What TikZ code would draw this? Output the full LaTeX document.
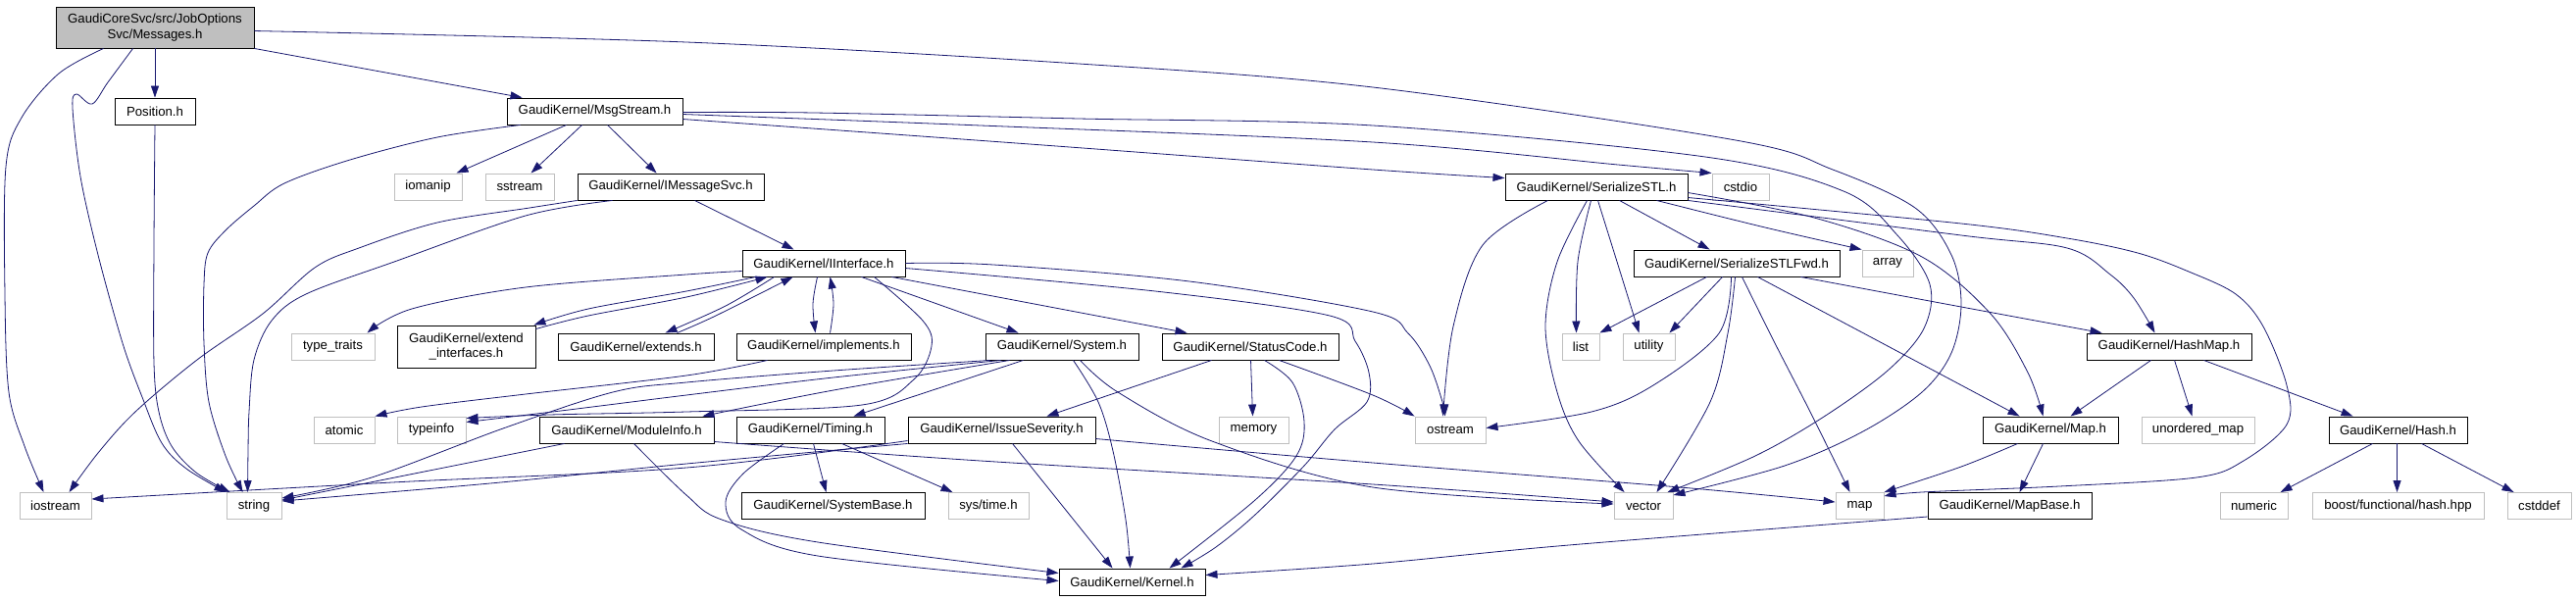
\documentclass[tikz,border=0pt]{standalone}
\usepackage{fontspec}
\setmainfont{Liberation Sans}
\usetikzlibrary{arrows.meta}
\definecolor{edgeblue}{HTML}{191970}
\definecolor{grayline}{HTML}{BFBFBF}
\begin{document}
\begin{tikzpicture}[x=1pt,y=-1pt,
  box/.style={draw=black,line width=0.95pt,inner sep=0pt,font=\fontsize{13.2pt}{15.5pt}\selectfont,align=center},
  ext/.style={box,draw=grayline},
  edge/.style={draw=edgeblue,line width=0.8pt,-{Triangle[length=12pt,width=8pt]}},
  sm/.style={smooth,tension=0.55}]
\useasboundingbox (0,0) rectangle (2627,613);
\node[box,fill=grayline,minimum width=202pt,minimum height=42pt] (msg) at (158,28) {GaudiCoreSvc/src/JobOptions\\Svc/Messages.h};
\node[box,minimum width=82pt,minimum height=27pt] (pos) at (158,113.5) {Position.h};
\node[box,minimum width=179pt,minimum height=27pt] (mstr) at (606.5,113.5) {GaudiKernel/MsgStream.h};
\node[ext,minimum width=69pt,minimum height=27pt] (iomanip) at (436.5,190.5) {iomanip};
\node[ext,minimum width=70pt,minimum height=27pt] (sstream) at (530,190.5) {sstream};
\node[box,minimum width=190pt,minimum height=27pt] (imsg) at (684,190.5) {GaudiKernel/IMessageSvc.h};
\node[box,minimum width=186pt,minimum height=27pt] (sstl) at (1628,190.5) {GaudiKernel/SerializeSTL.h};
\node[ext,minimum width=58pt,minimum height=27pt] (cstdio) at (1775,190.5) {cstdio};
\node[box,minimum width=166pt,minimum height=27pt] (iint) at (840,268.5) {GaudiKernel/IInterface.h};
\node[box,minimum width=210pt,minimum height=27pt] (sfwd) at (1771,268.5) {GaudiKernel/SerializeSTLFwd.h};
\node[ext,minimum width=52pt,minimum height=27pt] (array) at (1925,268.5) {array};
\node[ext,minimum width=85pt,minimum height=27pt] (ttraits) at (339.5,353.5) {type\_traits};
\node[box,minimum width=141pt,minimum height=43pt] (extint) at (475.5,353.5) {GaudiKernel/extend\\\_interfaces.h};
\node[box,minimum width=159pt,minimum height=27pt] (extends) at (648.5,353.5) {GaudiKernel/extends.h};
\node[box,minimum width=178pt,minimum height=27pt] (impl) at (840,353.5) {GaudiKernel/implements.h};
\node[box,minimum width=156pt,minimum height=27pt] (sys) at (1083,353.5) {GaudiKernel/System.h};
\node[box,minimum width=180pt,minimum height=27pt] (scode) at (1275,353.5) {GaudiKernel/StatusCode.h};
\node[ext,minimum width=38pt,minimum height=27pt] (list) at (1612,353.5) {list};
\node[ext,minimum width=53pt,minimum height=27pt] (utility) at (1681.5,353.5) {utility};
\node[box,minimum width=168pt,minimum height=27pt] (hmap) at (2212,353.5) {GaudiKernel/HashMap.h};
\node[ext,minimum width=62pt,minimum height=27pt] (atomic) at (351,438.5) {atomic};
\node[ext,minimum width=70pt,minimum height=27pt] (typeinfo) at (440,438.5) {typeinfo};
\node[box,minimum width=178pt,minimum height=27pt] (modinfo) at (639,438.5) {GaudiKernel/ModuleInfo.h};
\node[box,minimum width=151pt,minimum height=27pt] (timing) at (826.5,438.5) {GaudiKernel/Timing.h};
\node[box,minimum width=191pt,minimum height=27pt] (issue) at (1021.5,438.5) {GaudiKernel/IssueSeverity.h};
\node[ext,minimum width=71pt,minimum height=27pt] (memory) at (1278.5,438.5) {memory};
\node[ext,minimum width=72pt,minimum height=27pt] (ostream) at (1479,438.5) {ostream};
\node[box,minimum width=138pt,minimum height=27pt] (mapH) at (2091,438.5) {GaudiKernel/Map.h};
\node[ext,minimum width=115pt,minimum height=27pt] (umap) at (2241.5,438.5) {unordered\_map};
\node[box,minimum width=141pt,minimum height=27pt] (hash) at (2445.5,438.5) {GaudiKernel/Hash.h};
\node[ext,minimum width=73pt,minimum height=27pt] (iostream) at (56.5,516) {iostream};
\node[ext,minimum width=56pt,minimum height=27pt] (string) at (259,516) {string};
\node[box,minimum width=187pt,minimum height=27pt] (sysbase) at (849.5,516) {GaudiKernel/SystemBase.h};
\node[ext,minimum width=82pt,minimum height=27pt] (systime) at (1008,516) {sys/time.h};
\node[ext,minimum width=60pt,minimum height=27pt] (vector) at (1676,516) {vector};
\node[ext,minimum width=49pt,minimum height=27pt] (map) at (1896.5,516) {map};
\node[box,minimum width=167pt,minimum height=27pt] (mapbase) at (2049.5,516) {GaudiKernel/MapBase.h};
\node[ext,minimum width=69pt,minimum height=27pt] (numeric) at (2298.5,516) {numeric};
\node[ext,minimum width=175pt,minimum height=27pt] (boost) at (2445.5,516) {boost/functional/hash.hpp};
\node[ext,minimum width=65pt,minimum height=27pt] (cstddef) at (2589.5,516) {cstddef};
\node[box,minimum width=149pt,minimum height=27pt] (kernel) at (1154.5,593.5) {GaudiKernel/Kernel.h};

% Messages.h
\draw[edge] (msg.south -| pos.north) -- (pos.north);
\draw[edge] (msg.south east) -- ([xshift=16pt]mstr.north west);
\draw[edge] plot[sm] coordinates {([xshift=49pt]msg.south west) (60,75) (22,120) (6,170) (5,300) (9,400) (25,455) ([xshift=25pt]iostream.north west)};
\draw[edge] plot[sm] coordinates {([xshift=79pt]msg.south west) (110,84) (94,106) (78,96) (74,110) (82,180) (100,260) (125,350) (145,405) (165,452) (190,478) (string.north west)};
\draw[edge] plot[sm] coordinates {([yshift=-25pt]msg.north east) (700,43) (1100,65) (1400,89) (1770,143) (1869,173) (1953,212) (1990,260) (2000,310) (1990,360) (1960,400) (1900,440) (1820,475) ([yshift=-3pt]vector.north east)};
% Position.h
\draw[edge] plot[sm] coordinates {(pos.south) (157,250) (157,370) (162,420) (175,455) (200,482) ([xshift=4pt]string.north west)};
% MsgStream.h
\draw[edge] plot[sm] coordinates {([xshift=14pt]mstr.south west) (446,140) (357,163) (290,187) (259,210) (230,235) (212,258) (208,290) (208,350) (213,410) (230,465) ([xshift=17pt]string.north west)};
\draw[edge] ([xshift=61pt]mstr.south west) -- ([xshift=64pt]iomanip.north west);
\draw[edge] ([xshift=77pt]mstr.south west) -- ([xshift=47pt]sstream.north west);
\draw[edge] ([xshift=103pt]mstr.south west) -- ([xshift=81pt]imsg.north west);
\draw[edge] plot[sm] coordinates {([yshift=-22pt]mstr.north east) (1050,147) (1400,173) ([yshift=-5pt]sstl.north west)};
\draw[edge] plot[sm] coordinates {([yshift=-17pt]mstr.north east) (1000,128) (1400,145) (1650,168) (cstdio.north west)};
\draw[edge] plot[sm] coordinates {([yshift=-15pt]mstr.north east) (830,115) (1100,121) (1400,128) (1739,160) (1880,195) (1935,240) (1968,290) (1962,335) (1925,378) (1860,425) (1790,465) ([xshift=-6pt]vector.north east)};
% IMessageSvc.h
\draw[edge] ([xshift=120pt]imsg.south west) -- ([xshift=53pt]iint.north west);
\draw[edge] plot[sm] coordinates {(imsg.south west) (540,212) (446,227) (366,253) (321,273) (268,320) (201,367) (138,420) (100,462) ([xshift=51pt]iostream.north west)};
\draw[edge] plot[sm] coordinates {([xshift=36pt]imsg.south west) (536,220) (402,267) (312,300) (277,327) (259,367) (254,420) (253,460) ([xshift=22pt]string.north west)};
% IInterface.h
\draw[edge] plot[sm] coordinates {([yshift=-22pt]iint.north west) (700,280) (536,293) (420,315) ([xshift=-8pt]ttraits.north east)};
\draw[edge] plot[sm] coordinates {([xshift=14pt]iint.south west) (700,297) (600,315) ([xshift=-2pt]extint.north east)};
\draw[edge] plot[sm] coordinates {([yshift=-4pt]extint.north east) (600,322) (700,303) ([xshift=26pt]iint.south west)};
\draw[edge] plot[sm] coordinates {([xshift=33pt]iint.south west) (740,312) ([xshift=110pt]extends.north west)};
\draw[edge] plot[sm] coordinates {([xshift=122pt]extends.north west) (730,322) ([xshift=52pt]iint.south west)};
\draw[edge] plot[sm] coordinates {([xshift=77pt]iint.south west) (829,310) ([xshift=81pt]impl.north west)};
\draw[edge] plot[sm] coordinates {([xshift=96pt]impl.north west) (850,310) ([xshift=90pt]iint.south west)};
\draw[edge] ([xshift=122pt]iint.south west) -- ([xshift=34pt]sys.north west);
\draw[edge] ([xshift=153pt]iint.south west) -- ([xshift=26pt]scode.north west);
\draw[edge] plot[sm] coordinates {([yshift=-14pt]iint.north east) (1013,270) (1213,287) (1400,318) (1436,340) (1458,373) (1471,410) ([xshift=31pt]ostream.north west)};
\draw[edge] plot[sm] coordinates {([yshift=-19pt]iint.north east) (1178,297) (1356,322) (1382,348) (1396,380) (1394,410) (1361,438) (1330,475) (1280,525) (1240,558) ([xshift=-25pt]kernel.north east)};
\draw[edge] plot[sm] coordinates {([xshift=135pt]iint.south west) (941,327) (950,353) (932,387) (879,413) (700,420) (560,423) ([yshift=-2pt]typeinfo.north east)};
% implements.h
\draw[edge] plot[sm] coordinates {([xshift=32pt]impl.south west) (700,383) (536,402) (430,415) (atomic.north east)};
% System.h
\draw[edge] plot[sm] coordinates {([xshift=90pt]sys.south west) (1120,410) (1135,460) (1148,530) ([xshift=73pt]kernel.north west)};
\draw[edge] plot[sm] coordinates {([xshift=97pt]sys.south west) (1140,400) (1236,450) (1400,497) ([yshift=-12pt]vector.north west)};
\draw[edge] plot[sm] coordinates {([xshift=25pt]sys.south west) (850,398) ([xshift=-12pt]modinfo.north east)};
\draw[edge] ([xshift=39pt]sys.south west) -- ([xshift=-32pt]timing.north east);
\draw[edge] plot[sm] coordinates {([xshift=16pt]sys.south west) (850,385) (700,403) (580,418) ([yshift=-6pt]typeinfo.north east)};
\draw[edge] plot[sm] coordinates {([xshift=5pt]sys.south west) (850,378) (700,390) (625,400) (513,437) (379,487) ([yshift=-6pt]string.north east)};
% Timing.h
\draw[edge] ([xshift=79pt]timing.south west) -- ([xshift=87pt]sysbase.north west);
\draw[edge] ([xshift=108pt]timing.south west) -- ([xshift=5pt]systime.north west);
\draw[edge] plot[sm] coordinates {([xshift=49pt]timing.south west) (758,483) (740,512) (756,540) (834,567) ([yshift=-13pt]kernel.north west)};
% ModuleInfo.h
\draw[edge] plot[sm] coordinates {([xshift=97pt]modinfo.south west) (700,505) (736,530) (834,553) ([yshift=-5pt]kernel.north west)};
\draw[edge] ([xshift=26pt]modinfo.south west) -- ([yshift=-8pt]string.north east);
\draw[edge] plot[sm] coordinates {([yshift=-26pt]modinfo.north east) (1000,470) (1400,494) ([yshift=-10pt]vector.north west)};
% StatusCode.h
\draw[edge] plot[sm] coordinates {([xshift=105pt]scode.south west) (1318,390) (1330,430) (1322,465) (1280,510) ([xshift=-37pt]kernel.north east)};
\draw[edge] ([xshift=91pt]scode.south west) -- ([xshift=35pt]memory.north west);
\draw[edge] ([xshift=51pt]scode.south west) -- ([xshift=-50pt]issue.north east);
\draw[edge] plot[sm] coordinates {([xshift=120pt]scode.south west) (1400,403) (ostream.north west)};
% IssueSeverity.h
\draw[edge] ([xshift=107pt]issue.south west) -- ([xshift=55pt]kernel.north west);
\draw[edge] plot[sm] coordinates {([yshift=-23pt]issue.north east) (1400,472) (1713,497) ([yshift=-10pt]map.north west)};
\draw[edge] plot[sm] coordinates {(issue.south west) (700,473) (500,493) ([yshift=-9pt]string.north east)};
\draw[edge] plot[sm] coordinates {([yshift=-25pt]issue.north west) (700,477) (400,492) ([yshift=-7pt]iostream.north east)};
% SerializeSTL.h
\draw[edge] plot[sm] coordinates {([xshift=44pt]sstl.south west) (1512,250) (1482,333) ([xshift=29pt]ostream.north west)};
\draw[edge] plot[sm] coordinates {([xshift=84pt]sstl.south west) (1588,267) (1576,333) (1588,400) (1610,450) ([xshift=11pt]vector.north west)};
\draw[edge] plot[sm] coordinates {([xshift=88pt]sstl.south west) (1609,267) ([xshift=15pt]list.north west)};
\draw[edge] plot[sm] coordinates {([xshift=95pt]sstl.south west) (1654,283) ([xshift=17pt]utility.north west)};
\draw[edge] ([xshift=117pt]sstl.south west) -- ([xshift=78pt]sfwd.north west);
\draw[edge] plot[sm] coordinates {([xshift=155pt]sstl.south west) (1800,232) (array.north west)};
\draw[edge] plot[sm] coordinates {(sstl.south east) (2000,240) (2108,253) (2152,280) (2176,304) ([xshift=70pt]hmap.north west)};
\draw[edge] plot[sm] coordinates {([yshift=-25pt]sstl.north east) (2000,228) (2108,243) (2180,258) (2232,277) (2280,300) (2308,333) (2332,393) (2332,433) (2288,470) (2240,487) (2100,496) (1960,502) ([yshift=-4pt]map.north east)};
\draw[edge] plot[sm] coordinates {([yshift=-20pt]sstl.north east) (1850,222) (1960,262) (2030,320) (2068,380) ([xshift=62pt]mapH.north west)};
% SerializeSTLFwd.h
\draw[edge] ([xshift=75pt]sfwd.south west) -- (list.north east);
\draw[edge] ([xshift=91pt]sfwd.south west) -- ([xshift=-6pt]utility.north east);
\draw[edge] plot[sm] coordinates {([xshift=100pt]sfwd.south west) (1753,340) (1686,393) (1623,420) ([yshift=-12pt]ostream.north east)};
\draw[edge] plot[sm] coordinates {([xshift=104pt]sfwd.south west) (1762,340) (1744,410) ([xshift=44pt]vector.north west)};
\draw[edge] plot[sm] coordinates {([xshift=111pt]sfwd.south west) (1810,350) (1846,420) ([xshift=15pt]map.north west)};
\draw[edge] ([xshift=127pt]sfwd.south west) -- ([xshift=38pt]mapH.north west);
\draw[edge] plot[sm] coordinates {([xshift=171pt]sfwd.south west) (2000,313) ([xshift=16pt]hmap.north west)};
% HashMap.h
\draw[edge] ([xshift=66pt]hmap.south west) -- ([xshift=90pt]mapH.north west);
\draw[edge] ([xshift=90pt]hmap.south west) -- ([xshift=52pt]umap.north west);
\draw[edge] ([xshift=120pt]hmap.south west) -- ([xshift=25pt]hash.north west);
% Map.h
\draw[edge] plot[sm] coordinates {([xshift=36pt]mapH.south west) (2000,476) (map.north east)};
\draw[edge] ([xshift=62pt]mapH.south west) -- ([xshift=94pt]mapbase.north west);
% MapBase.h
\draw[edge] plot[sm] coordinates {([yshift=-25pt]mapbase.north west) (1600,556) (1400,575) ([yshift=-7pt]kernel.north east)};
% Hash.h
\draw[edge] ([xshift=45pt]hash.south west) -- ([xshift=62pt]numeric.north west);
\draw[edge] ([xshift=70pt]hash.south west) -- ([xshift=87pt]boost.north west);
\draw[edge] ([xshift=95pt]hash.south west) -- ([xshift=7pt]cstddef.north west);
\end{tikzpicture}
\end{document}
